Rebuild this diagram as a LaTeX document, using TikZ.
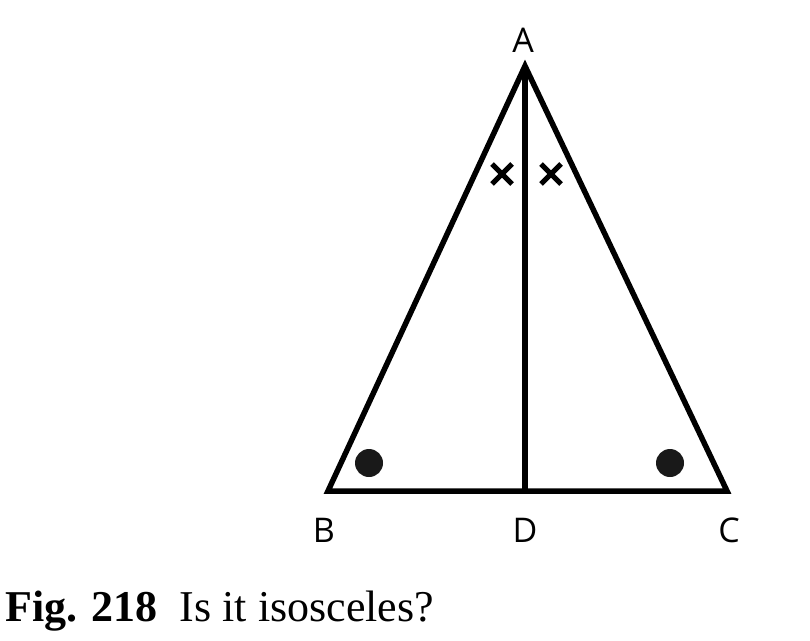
\documentclass[tikz,border=0pt]{standalone}
\usepackage{fontspec}
\setmainfont{Liberation Serif}
\newfontfamily\labelfont{Open Sans}
\begin{document}
\begin{tikzpicture}[x=1pt,y=-1pt]
    \tikzstyle{side}=[line width=5.5pt,line join=miter]
    \tikzstyle{vlabel}=[font=\labelfont\fontsize{34}{34}\selectfont,inner sep=0pt]
    \tikzstyle{cross}=[line width=5pt]
    \tikzstyle{dot}=[fill=black!90]
    \useasboundingbox (0,0) rectangle (810,640);
    \coordinate (A) at (525,66);
    \coordinate (B) at (328,491);
    \coordinate (C) at (727,491);
    \coordinate (D) at (525,491);
    \draw[side] (A) -- (B) -- (C) -- cycle;
    \draw[side] (A) -- (D);
    \node[vlabel] (la) at (523,40) {A};
    \node[vlabel] (lb) at (324,530) {B};
    \node[vlabel] (ld) at (525,530) {D};
    \node[vlabel] (lc) at (729,530) {C};
    % equal angles at A
    \foreach \cx in {502,551}{
      \draw[cross] (\cx-10,164) -- (\cx+10,184);
      \draw[cross] (\cx-10,184) -- (\cx+10,164);
    }
    % equal angles at B and C
    \fill[dot] (369,463) circle (14);
    \fill[dot] (670,463) circle (14);
    \node[anchor=base west,inner sep=0pt,font=\fontsize{44}{44}\selectfont] (caption) at (5,621) {\textbf{Fig. 218}\ \ Is it isosceles?};
  \end{tikzpicture}
\end{document}
